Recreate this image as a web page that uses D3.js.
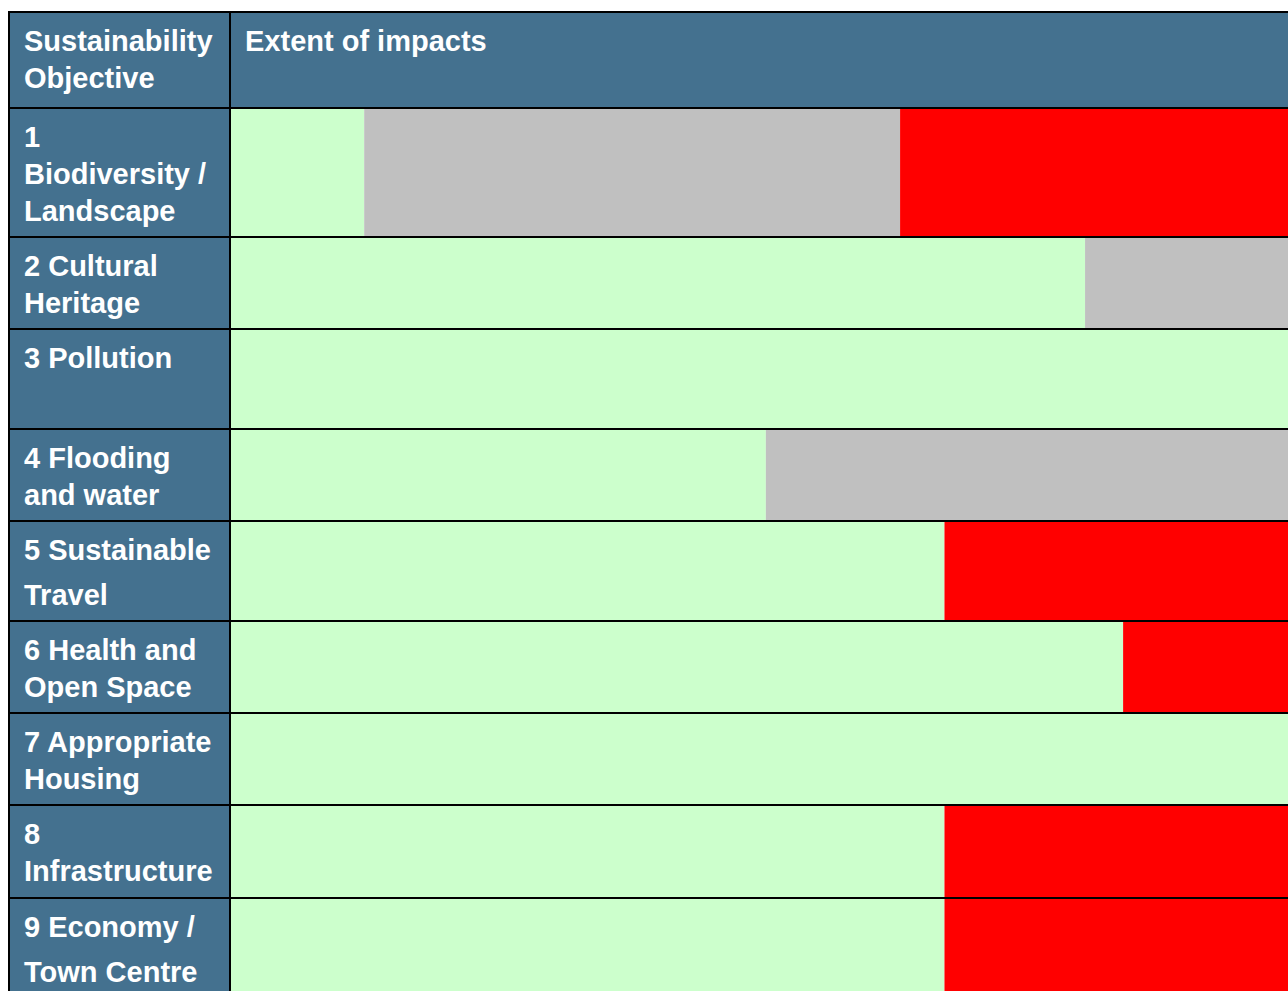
<!DOCTYPE html>
<html>
<head>
<meta charset="utf-8">
<script src="https://cdn.jsdelivr.net/npm/d3@7"></script>
<style>
  html, body { margin: 0; padding: 0; background: #fff; overflow: hidden; }
  text { font-family: "Liberation Sans", Arial, sans-serif; font-weight: bold; }
</style>
</head>
<body>
<div id="chart"></div>
<script>
// data
const headers = ["Sustainability|Objective", "Extent of impacts"];
const objectives = [
  "1|Biodiversity /|Landscape",
  "2 Cultural|Heritage",
  "3 Pollution",
  "4 Flooding|and water",
  "5 Sustainable|Travel",
  "6 Health and|Open Space",
  "7 Appropriate|Housing",
  "8|Infrastructure",
  "9 Economy /|Town Centre"
];
// share of the impacts column (%)
const positive = [12.6, 80.8, 100, 50.6, 67.5, 84.4, 100, 67.5, 67.5];
const neutral  = [50.7, 19.2, 0, 49.4, 0, 0, 0, 0, 0];
const negative = [36.7, 0, 0, 0, 32.5, 15.6, 0, 32.5, 32.5];

const width = 1288;
const height = 991;
const colLeft = 9, colSplit = 230, tableTop = 12;
// row borders (layout of the original table, rows have their own heights)
const rowEdges = [108, 237, 329, 429, 521, 621, 713, 805, 898, 1005];
const lineGap = [37, 37, 37, 37, 45, 37, 37, 37, 45];
const blue = "#44718f";

const colors = { positive: "#ccffcc", neutral: "#c0c0c0", negative: "#ff0000" };

const table = objectives.map((o, i) => ({
  name: o, positive: positive[i], neutral: neutral[i], negative: negative[i]
}));

const stack = d3.stack().keys(["positive", "neutral", "negative"]);
const series = stack(table);

const x = d3.scaleLinear()
  .domain([0, 100])
  .range([colSplit + 1, width]);

const svg = d3.select("#chart")
  .append("svg")
  .attr("width", width)
  .attr("height", height);

svg.append("rect").attr("width", width).attr("height", height).attr("fill", "#fff");

// header row
svg.append("rect")
  .attr("x", colLeft).attr("y", tableTop)
  .attr("width", width - colLeft).attr("height", rowEdges[0] - tableTop)
  .attr("fill", blue);

// label column
svg.append("g")
  .selectAll("rect")
  .data(table)
  .join("rect")
  .attr("x", colLeft)
  .attr("y", (d, i) => rowEdges[i])
  .attr("width", colSplit - colLeft)
  .attr("height", (d, i) => rowEdges[i + 1] - rowEdges[i])
  .attr("fill", blue);

// impact bars
svg.append("g")
  .selectAll("g")
  .data(series)
  .join("g")
  .attr("fill", s => colors[s.key])
  .selectAll("rect")
  .data(s => s)
  .join("rect")
  .attr("x", d => x(d[0]))
  .attr("y", (d, i) => rowEdges[i])
  .attr("width", d => Math.max(0, x(d[1]) - x(d[0])))
  .attr("height", (d, i) => rowEdges[i + 1] - rowEdges[i]);

// borders
const grid = svg.append("g").attr("stroke", "#000").attr("stroke-width", 2);
grid.append("line").attr("x1", colLeft).attr("x2", width).attr("y1", tableTop).attr("y2", tableTop);
grid.selectAll("line.h")
  .data(rowEdges.slice(0, -1))
  .join("line")
  .attr("class", "h")
  .attr("x1", colLeft).attr("x2", width)
  .attr("y1", d => d).attr("y2", d => d);
grid.append("line").attr("x1", colLeft).attr("x2", colLeft).attr("y1", tableTop - 1).attr("y2", height);
grid.append("line").attr("x1", colSplit).attr("x2", colSplit).attr("y1", tableTop - 1).attr("y2", height);

// text
function addLines(g, label, xPos, y0, gap) {
  const t = g.append("text")
    .attr("x", xPos)
    .attr("y", y0)
    .attr("fill", "#fff")
    .attr("font-size", "29px");
  label.split("|").forEach((line, j) => {
    t.append("tspan").attr("x", xPos).attr("y", y0 + j * gap).text(line);
  });
}

const labels = svg.append("g");
addLines(labels, headers[0], 24, tableTop + 39, 37);
addLines(labels, headers[1], colSplit + 15, tableTop + 39, 37);
table.forEach((d, i) => addLines(labels, d.name, 24, rowEdges[i] + 39, lineGap[i]));
</script>
</body>
</html>
